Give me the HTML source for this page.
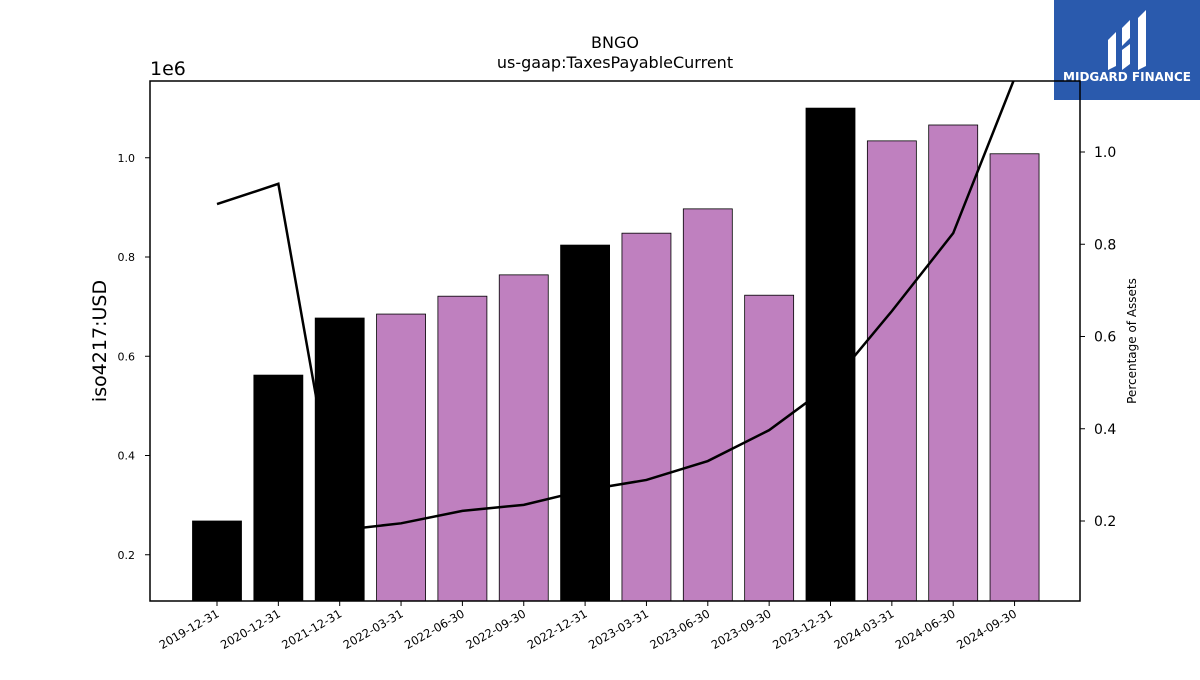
<!DOCTYPE html>
<html><head><meta charset="utf-8"><style>
body{margin:0;background:#fff;font-family:"Liberation Sans","DejaVu Sans",sans-serif;}
</style></head><body>
<svg id="c" width="1200" height="675" xmlns="http://www.w3.org/2000/svg" font-family="DejaVu Sans, Liberation Sans, sans-serif">
<rect x="1054" y="0" width="146" height="100" fill="#2a5aad"/>
<g fill="#fff">
<path d="M1108 40 L1116 32 L1116 66 L1108 70 Z"/>
<path d="M1122 28 L1130 20 L1130 38 L1122 46 Z"/>
<path d="M1122 50 L1130 44 L1130 64 L1122 70 Z"/>
<path d="M1138 18 L1146 10 L1146 66 L1138 70 Z"/>
</g>
<text x="1127" y="81" fill="#fff" font-size="12" font-weight="bold" text-anchor="middle">MIDGARD FINANCE</text>
<text x="615" y="48" font-size="16" text-anchor="middle">BNGO</text>
<text x="615" y="68" font-size="16" text-anchor="middle">us-gaap:TaxesPayableCurrent</text>
<text x="150" y="75" font-size="19">1e6</text>
<text transform="translate(106,341) rotate(-90)" font-size="19" text-anchor="middle">iso4217:USD</text>
<text transform="translate(1136,341) rotate(-90)" font-size="12" text-anchor="middle">Percentage of Assets</text>
<defs><clipPath id="pc"><rect x="150" y="81" width="930" height="520"/></clipPath></defs>
<g id="bars"></g>
<g id="line" clip-path="url(#pc)"></g>
<rect x="150" y="81" width="930" height="520" fill="none" stroke="#000" stroke-width="1.5"/>
<g id="axes"></g>
</svg>
<script>
const categories=["2019-12-31","2020-12-31","2021-12-31","2022-03-31","2022-06-30","2022-09-30","2022-12-31","2023-03-31","2023-06-30","2023-09-30","2023-12-31","2024-03-31","2024-06-30","2024-09-30"];
const values=[0.268,0.562,0.677,0.685,0.721,0.764,0.824,0.848,0.897,0.723,1.100,1.034,1.066,1.008];
const annual=[1,1,1,0,0,0,1,0,0,0,1,0,0,0];
const pct=[0.887,0.931,0.18,0.195,0.222,0.235,0.267,0.289,0.33,0.397,0.495,0.655,0.824,1.16];
const leftTicks=[0.2,0.4,0.6,0.8,1.0];
const rightTicks=[0.2,0.4,0.6,0.8,1.0];
const NS="http://www.w3.org/2000/svg";
const yL=v=>654-v*496.25;
const yR=v=>613.25-v*461.25;
const xC=i=>217+i*61.35;
function mk(tag,attrs,parent){const e=document.createElementNS(NS,tag);for(const k in attrs)e.setAttribute(k,attrs[k]);parent.appendChild(e);return e;}
const bars=document.getElementById('bars'),line=document.getElementById('line'),axes=document.getElementById('axes');
values.forEach((v,i)=>{
 const r=mk('rect',{x:xC(i)-24.5,y:yL(v),width:49,height:601-yL(v),fill:annual[i]?'#000':'#bf80bf',stroke:'#000','stroke-width':0.8},bars);
 
 
 const t=mk('line',{x1:xC(i),x2:xC(i),y1:601,y2:606,stroke:'#000'},axes);
 
 
 const lb=mk('text',{transform:`translate(${xC(i)+3},${616}) rotate(-30)`,'font-size':11.5,'text-anchor':'end'},axes);
 lb.textContent=categories[i];
 
 
});
const p=mk('polyline',{points:pct.map((v,i)=>xC(i)+','+yR(v)).join(' '),fill:'none',stroke:'#000','stroke-width':2.5},line);


leftTicks.forEach(v=>{
 const t=mk('line',{x1:145,x2:150,y1:yL(v),y2:yL(v),stroke:'#000'},axes);
 
 
 const l=mk('text',{x:135,y:yL(v)+4,'font-size':11,'text-anchor':'end'},axes);
 l.textContent=v.toFixed(1);
 
 
});
rightTicks.forEach(v=>{
 const t=mk('line',{x1:1080,x2:1085,y1:yR(v),y2:yR(v),stroke:'#000'},axes);
 
 
 const l=mk('text',{x:1094,y:yR(v)+5,'font-size':14},axes);
 l.textContent=v.toFixed(1);
 
 
});
</script>
</body></html>
